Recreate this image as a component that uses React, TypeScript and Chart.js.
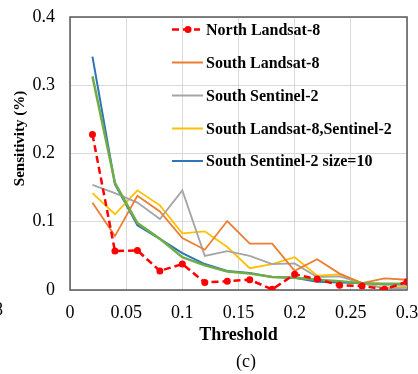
import { useEffect, useRef } from "react";
import { Chart, registerables } from "chart.js";

Chart.register(...registerables);

const FONT = "'Liberation Serif', 'Times New Roman', serif";

const thresholds = [0.02, 0.04, 0.06, 0.08, 0.1, 0.12, 0.14, 0.16, 0.18, 0.2, 0.22, 0.24, 0.26, 0.28, 0.3];
const northLandsat8 = [0.228, 0.057, 0.058, 0.028, 0.038, 0.011, 0.013, 0.015, 0.001, 0.023, 0.016, 0.007, 0.006, 0.001, 0.012];
const southLandsat8 = [0.128, 0.079, 0.138, 0.115, 0.076, 0.059, 0.101, 0.068, 0.068, 0.028, 0.045, 0.024, 0.01, 0.017, 0.015];
const southSentinel2 = [0.154, 0.142, 0.128, 0.104, 0.146, 0.05, 0.057, 0.05, 0.038, 0.039, 0.019, 0.02, 0.01, 0.002, 0.003];
const southLandsat8Sentinel2 = [0.142, 0.111, 0.146, 0.124, 0.083, 0.086, 0.063, 0.032, 0.038, 0.048, 0.021, 0.023, 0.01, 0.003, 0.005];
const southSentinel2Size10 = [0.342, 0.155, 0.095, 0.075, 0.054, 0.038, 0.028, 0.025, 0.019, 0.018, 0.012, 0.011, 0.01, 0.008, 0.008];
const unlabeledGreen = [0.313, 0.157, 0.098, 0.075, 0.048, 0.036, 0.027, 0.024, 0.019, 0.018, 0.015, 0.013, 0.01, 0.009, 0.009];

const seriesNames = [
  "North Landsat-8",
  "South Landsat-8",
  "South Sentinel-2",
  "South Landsat-8,Sentinel-2",
  "South Sentinel-2 size=10",
];
const xTickStep = 0.05;
const yTickStep = 0.1;
const xAxisTitle = "Threshold";
const yAxisTitle = "Sensitivity (%)";
const caption = "(c)";

const toPoints = (vals: number[]) => vals.map((y, i) => ({ x: thresholds[i], y }));

const fmt = (v: number) => String(Number(Number(v).toFixed(2)));

export default function App() {
  const ref = useRef<HTMLCanvasElement | null>(null);

  useEffect(() => {
    if (!ref.current) return;

    const frameAndText = {
      id: "frameAndText",
      beforeDatasetsDraw(chart: any) {
        const { ctx, chartArea } = chart;
        ctx.save();
        ctx.strokeStyle = "#595959";
        ctx.lineWidth = 1.5;
        ctx.strokeRect(chartArea.left, chartArea.top, chartArea.right - chartArea.left, chartArea.bottom - chartArea.top);
        ctx.restore();
      },
      afterDraw(chart: any) {
        const { ctx } = chart;
        ctx.save();
        // y axis title
        ctx.fillStyle = "#000";
        ctx.font = `bold 15px ${FONT}`;
        ctx.textAlign = "center";
        ctx.textBaseline = "middle";
        ctx.translate(20, 138.5);
        ctx.rotate(-Math.PI / 2);
        ctx.fillText(yAxisTitle, 0, 0);
        ctx.restore();

        ctx.save();
        ctx.fillStyle = "#000";
        ctx.font = `18px ${FONT}`;
        ctx.textAlign = "center";
        ctx.textBaseline = "middle";
        ctx.fillText(caption, 246, 362);
        ctx.textAlign = "left";
        ctx.fillText("8", -6, 310);
        ctx.restore();

        // legend
        const colors = ["#FF0000", "#ED7D31", "#A5A5A5", "#FFC000", "#2E75B6"];
        const rowsY = [29.5, 62.5, 95.5, 128.5, 161];
        ctx.save();
        ctx.font = `bold 16px ${FONT}`;
        ctx.textBaseline = "middle";
        ctx.textAlign = "left";
        seriesNames.forEach((name, i) => {
          const y = rowsY[i];
          ctx.strokeStyle = colors[i];
          if (i === 0) {
            ctx.lineWidth = 2.5;
            ctx.setLineDash([7, 4]);
            ctx.beginPath();
            ctx.moveTo(172, y);
            ctx.lineTo(200, y);
            ctx.stroke();
            ctx.setLineDash([]);
            ctx.fillStyle = colors[i];
            ctx.beginPath();
            ctx.arc(188, y, 3.5, 0, Math.PI * 2);
            ctx.fill();
          } else {
            ctx.lineWidth = 2;
            ctx.beginPath();
            ctx.moveTo(172, y);
            ctx.lineTo(203, y);
            ctx.stroke();
          }
          ctx.fillStyle = "#000";
          ctx.fillText(name, 206, y + 1);
        });
        ctx.restore();
      },
    };

    const chart = new Chart(ref.current, {
      type: "line",
      data: {
        datasets: [
          {
            label: seriesNames[0],
            data: toPoints(northLandsat8),
            borderColor: "#FF0000",
            backgroundColor: "#FF0000",
            borderWidth: 2.5,
            borderDash: [7, 4],
            pointRadius: 3.5,
            pointBorderWidth: 0,
            pointBackgroundColor: "#FF0000",
            order: 0,
          },
          {
            label: "green",
            data: toPoints(unlabeledGreen),
            borderColor: "#70AD47",
            borderWidth: 2.5,
            pointRadius: 0,
            order: 1,
          },
          {
            label: seriesNames[1],
            data: toPoints(southLandsat8),
            borderColor: "#ED7D31",
            borderWidth: 1.8,
            pointRadius: 0,
            order: 2,
          },
          {
            label: seriesNames[2],
            data: toPoints(southSentinel2),
            borderColor: "#A5A5A5",
            borderWidth: 1.8,
            pointRadius: 0,
            order: 2,
          },
          {
            label: seriesNames[3],
            data: toPoints(southLandsat8Sentinel2),
            borderColor: "#FFC000",
            borderWidth: 1.8,
            pointRadius: 0,
            order: 2,
          },
          {
            label: seriesNames[4],
            data: toPoints(southSentinel2Size10),
            borderColor: "#2E75B6",
            borderWidth: 2,
            pointRadius: 0,
            order: 2,
          },
        ],
      },
      options: {
        responsive: false,
        animation: false,
        layout: { padding: { left: 0, top: 17, right: 11, bottom: 0 } },
        plugins: {
          legend: { display: false },
          tooltip: { enabled: false },
          title: { display: false },
        },
        scales: {
          x: {
            type: "linear",
            min: 0,
            max: 0.3,
            ticks: {
              stepSize: xTickStep,
              padding: 12,
              color: "#000",
              font: { family: FONT, size: 18 },
              callback: (v: any) => fmt(v),
            },
            grid: { color: "#d9d9d9", lineWidth: 1, drawTicks: false },
            border: { display: false },
            title: {
              display: true,
              text: xAxisTitle,
              color: "#000",
              font: { family: FONT, size: 18, weight: "bold" },
              padding: { top: 0, bottom: 28 },
            },
            afterFit: (s: any) => {
              s.height = 84;
              s.paddingLeft = 0;
              s.paddingRight = 0;
            },
          },
          y: {
            min: 0,
            max: 0.4,
            ticks: {
              stepSize: yTickStep,
              padding: 15,
              color: "#000",
              font: { family: FONT, size: 18 },
              callback: (v: any) => fmt(v),
            },
            grid: { color: "#d9d9d9", lineWidth: 1, drawTicks: false },
            border: { display: false },
            afterFit: (s: any) => {
              s.width = 70;
              s.paddingTop = 0;
              s.paddingBottom = 0;
            },
          },
        },
      },
      plugins: [frameAndText],
    } as any);

    return () => chart.destroy();
  }, []);

  return (
    <div style={{ position: "fixed", left: 0, top: 0, width: 418, height: 374, background: "#fff" }}>
      <canvas ref={ref} width={418} height={374} style={{ display: "block", width: 418, height: 374 }} />
    </div>
  );
}
